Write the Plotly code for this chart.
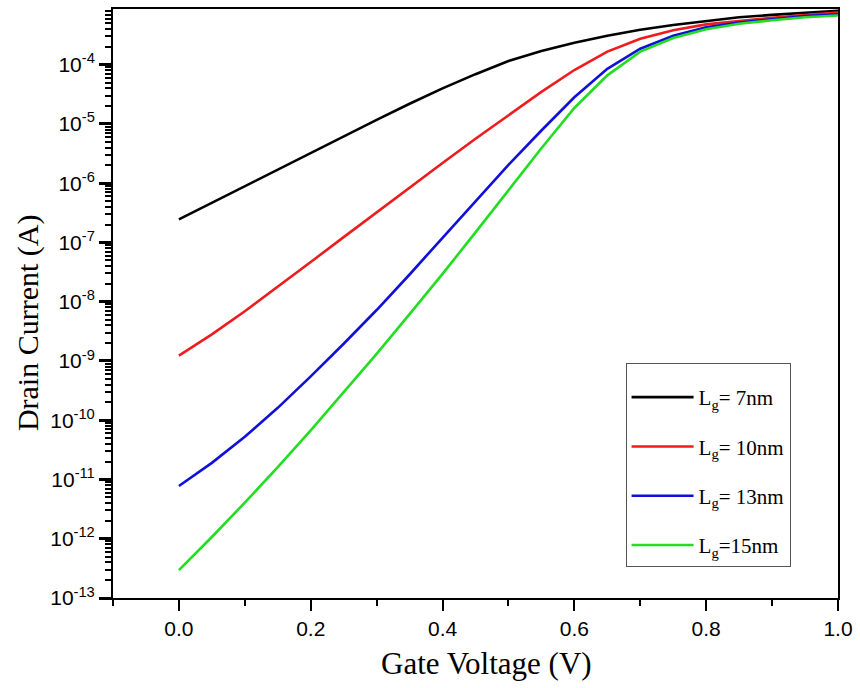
import plotly.graph_objects as go

gate_voltage = [0.0, 0.05, 0.1, 0.15, 0.2, 0.25, 0.3, 0.35, 0.4, 0.45, 0.5,
                0.55, 0.6, 0.65, 0.7, 0.75, 0.8, 0.85, 0.9, 0.95, 1.0]

id_lg7 = [2.45e-7, 4.68e-7, 8.91e-7, 1.70e-6, 3.24e-6, 6.17e-6, 1.17e-5, 2.19e-5,
          3.98e-5, 6.92e-5, 1.15e-4, 1.70e-4, 2.34e-4, 3.09e-4, 3.89e-4, 4.68e-4,
          5.50e-4, 6.31e-4, 6.92e-4, 7.59e-4, 8.13e-4]
id_lg10 = [1.23e-9, 2.82e-9, 6.92e-9, 1.78e-8, 4.68e-8, 1.23e-7, 3.24e-7, 8.51e-7,
           2.19e-6, 5.62e-6, 1.41e-5, 3.47e-5, 8.13e-5, 1.66e-4, 2.75e-4, 3.80e-4,
           4.79e-4, 5.50e-4, 6.17e-4, 6.92e-4, 7.59e-4]
id_lg13 = [7.76e-12, 1.91e-11, 5.25e-11, 1.62e-10, 5.50e-10, 1.95e-9, 7.24e-9, 2.88e-8,
           1.20e-7, 5.01e-7, 2.04e-6, 7.76e-6, 2.82e-5, 8.51e-5, 1.86e-4, 3.09e-4,
           4.27e-4, 5.13e-4, 5.89e-4, 6.61e-4, 7.08e-4]
id_lg15 = [2.95e-13, 1.07e-12, 4.07e-12, 1.62e-11, 6.76e-11, 2.95e-10, 1.32e-9, 6.17e-9,
           2.95e-8, 1.48e-7, 7.76e-7, 3.89e-6, 1.86e-5, 6.61e-5, 1.66e-4, 2.82e-4,
           3.98e-4, 4.90e-4, 5.62e-4, 6.31e-4, 6.76e-4]

series_names = ["L<sub>g</sub>= 7nm", "L<sub>g</sub>= 10nm", "L<sub>g</sub>= 13nm", "L<sub>g</sub>=15nm"]
series_colors = ["#000000", "#ee1c1c", "#1010d8", "#22dd22"]

y_tick_exponents = [-13, -12, -11, -10, -9, -8, -7, -6, -5, -4]
y_tick_vals = [10.0 ** e for e in y_tick_exponents]
y_tick_text = ["10<sup>%d</sup>" % e for e in y_tick_exponents]
y_minor_vals = [m * 10.0 ** e for e in y_tick_exponents for m in range(2, 10)]

x_tick_vals = [0.0, 0.2, 0.4, 0.6, 0.8, 1.0]
x_tick_text = ["0.0", "0.2", "0.4", "0.6", "0.8", "1.0"]

serif = "Liberation Serif, Times New Roman, serif"

fig = go.Figure()
for i, (name, ys, col) in enumerate(zip(series_names, [id_lg7, id_lg10, id_lg13, id_lg15], series_colors)):
    fig.add_trace(go.Scatter(x=gate_voltage, y=ys, mode="lines", name=name,
                             legendgroup="g%d" % i,
                             line=dict(color=col, width=2.6)))

# invisible helper trace so the right-hand frame axis is drawn
fig.add_trace(go.Scatter(x=gate_voltage, y=id_lg7, yaxis="y2", mode="lines",
                         line=dict(color="rgba(0,0,0,0)", width=0),
                         showlegend=False, hoverinfo="skip"))

y_range = [-13, -3.06]

fig.update_layout(
    width=860, height=688,
    margin=dict(l=113, r=20, t=7, b=90),
    plot_bgcolor="white", paper_bgcolor="white",
    font=dict(family="Liberation Sans, Arial", size=21, color="black"),
    showlegend=True,
    legend=dict(
        x=0.707, y=0.399, xanchor="left", yanchor="top",
        bordercolor="#555555", borderwidth=1, bgcolor="white",
        font=dict(family=serif, size=21, color="black"),
        title=dict(text=" ", font=dict(size=10)),
        tracegroupgap=19, itemwidth=62,
    ),
    xaxis=dict(
        range=[-0.1, 1.0], tickvals=x_tick_vals, ticktext=x_tick_text,
        showline=True, linecolor="black", linewidth=2, mirror=True,
        ticks="outside", ticklen=11, tickwidth=2, tickcolor="black",
        minor=dict(ticks="outside", ticklen=6, tickwidth=2, tickcolor="black", dtick=0.1, tick0=0),
        showgrid=False, zeroline=False,
    ),
    yaxis=dict(
        type="log", range=y_range, tickmode="array",
        tickvals=y_tick_vals, ticktext=y_tick_text,
        showline=True, linecolor="black", linewidth=2,
        ticks="outside", ticklen=12, tickwidth=2.5, tickcolor="black",
        minor=dict(tickmode="array", tickvals=y_minor_vals, ticks="outside",
                   ticklen=6, tickwidth=2, tickcolor="black"),
        gridcolor="rgba(0,0,0,0)",
    ),
    yaxis2=dict(
        type="log", range=y_range, overlaying="y", side="right", anchor="x",
        showline=True, linecolor="black", linewidth=2,
        ticks="", showticklabels=False, showgrid=False, zeroline=False,
    ),
    annotations=[
        dict(text="Drain Current (A)", textangle=-90, showarrow=False,
             xref="paper", yref="paper", x=-0.117, y=0.467,
             xanchor="center", yanchor="middle",
             font=dict(family=serif, size=30, color="black")),
        dict(text="Gate Voltage (V)", showarrow=False,
             xref="paper", yref="paper", x=(488 - 113) / 727, y=-(664 - 598) / 591,
             xanchor="center", yanchor="middle",
             font=dict(family=serif, size=31, color="black")),
    ],
)

fig.write_html("out.html")
